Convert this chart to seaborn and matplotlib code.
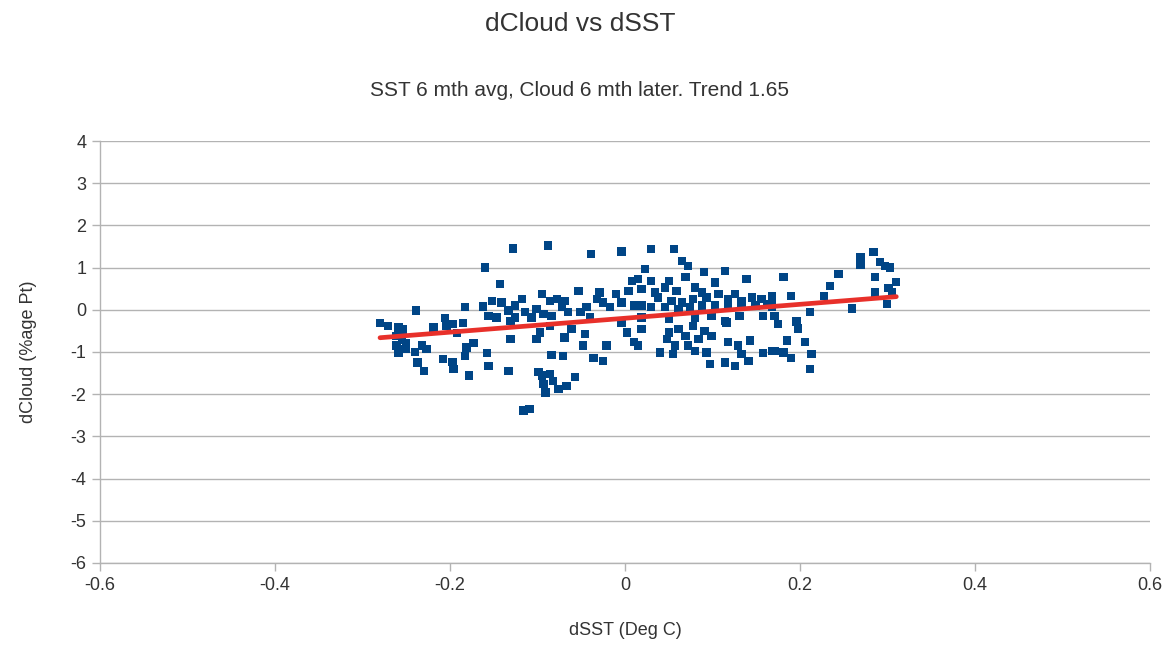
import numpy as np
import pandas as pd
import matplotlib
matplotlib.use("Agg")
import matplotlib.pyplot as plt
import seaborn as sns

# ---- data ----
dsst = [
    -0.280, -0.271, -0.259, -0.254, -0.262, -0.255, -0.250, -0.261, -0.259, -0.251,
    -0.239, -0.240, -0.232, -0.227, -0.237, -0.230, -0.219, -0.206, -0.204, -0.197,
    -0.192, -0.185, -0.183, -0.181, -0.173, -0.208, -0.197, -0.196, -0.183, -0.178,
    -0.162, -0.158, -0.156, -0.160, -0.152, -0.147, -0.143, -0.141, -0.156,
    -0.128, -0.088, -0.039, -0.004, -0.133, -0.126, -0.118, -0.114, -0.131, -0.126,
    -0.107, -0.101, -0.095, -0.093, -0.086, -0.084, -0.078, -0.072, -0.069, -0.065,
    -0.053, -0.051, -0.044, -0.040, -0.032, -0.029, -0.025, -0.017, -0.010, -0.004,
    0.004, 0.008, 0.011, -0.004, 0.002, 0.010, -0.131, -0.101, -0.097, -0.086,
    -0.069, -0.061, -0.046, -0.048, -0.021, -0.084, -0.071, -0.036, -0.025, -0.133,
    -0.099, -0.095, -0.086, -0.082, -0.093, -0.091, -0.076, -0.067, -0.057, -0.116,
    -0.109,
    0.030, 0.056, 0.065, 0.072, 0.023, 0.015, 0.030, 0.050, 0.069, 0.090,
    0.114, 0.103, 0.139, 0.019, 0.034, 0.046, 0.059, 0.080, 0.088, 0.038,
    0.053, 0.065, 0.078, 0.093, 0.107, 0.118, 0.126, 0.133, 0.145, 0.156,
    0.168, 0.019, 0.030, 0.046, 0.061, 0.074, 0.088, 0.103, 0.118, 0.133,
    0.149, 0.162, 0.019, 0.050, 0.080, 0.099, 0.114, 0.131, 0.158, 0.019,
    0.050, 0.061, 0.078, 0.091, 0.116, 0.048, 0.069, 0.084, 0.099, 0.057,
    0.072, 0.080, 0.015, 0.040, 0.055, 0.093, 0.118, 0.129, 0.143, 0.133,
    0.158, 0.097, 0.114, 0.126, 0.141, 0.168,
    0.284, 0.269, 0.269, 0.291, 0.297, 0.303, 0.244, 0.286, 0.310, 0.234,
    0.301, 0.227, 0.286, 0.305, 0.181, 0.190, 0.168, 0.299, 0.259, 0.211,
    0.168, 0.171, 0.175, 0.196, 0.198, 0.185, 0.206, 0.171, 0.181, 0.190,
    0.213, 0.211,
]
dcloud = [
    -0.32, -0.38, -0.42, -0.47, -0.62, -0.70, -0.79, -0.85, -1.03, -0.93,
    -0.02, -1.00, -0.85, -0.93, -1.25, -1.45, -0.42, -0.20, -0.38, -0.34,
    -0.55, -0.32, 0.06, -0.89, -0.79, -1.17, -1.23, -1.41, -1.09, -1.56,
    0.08, -1.03, -1.33, 1.00, 0.21, -0.18, 0.61, 0.17, -0.14,
    1.45, 1.52, 1.32, 1.38, -0.02, 0.10, 0.25, -0.06, -0.26, -0.18,
    -0.18, 0.02, 0.37, -0.10, 0.21, -0.14, 0.25, 0.06, 0.21, -0.06,
    0.45, -0.06, 0.06, -0.18, 0.25, 0.41, 0.17, 0.06, 0.37, 0.17,
    0.45, 0.69, 0.10, -0.30, -0.54, -0.77, -0.69, -0.69, -0.54, -0.38,
    -0.66, -0.46, -0.58, -0.85, -0.85, -1.07, -1.10, -1.15, -1.21, -1.45,
    -1.48, -1.56, -1.52, -1.68, -1.76, -1.96, -1.88, -1.80, -1.60, -2.39,
    -2.35,
    1.44, 1.44, 1.16, 1.04, 0.96, 0.73, 0.69, 0.69, 0.77, 0.89,
    0.92, 0.65, 0.73, 0.49, 0.41, 0.53, 0.45, 0.53, 0.41, 0.29,
    0.21, 0.17, 0.25, 0.29, 0.37, 0.25, 0.37, 0.21, 0.29, 0.25,
    0.33, 0.10, 0.06, 0.06, 0.02, 0.06, 0.10, 0.10, 0.06, 0.10,
    0.10, 0.14, -0.18, -0.22, -0.18, -0.14, -0.26, -0.14, -0.14, -0.46,
    -0.54, -0.46, -0.38, -0.50, -0.30, -0.69, -0.62, -0.69, -0.62, -0.85,
    -0.85, -0.97, -0.85, -1.01, -1.05, -1.01, -0.77, -0.85, -0.73, -1.05,
    -1.03, -1.29, -1.25, -1.33, -1.21, -0.97,
    1.37, 1.24, 1.06, 1.14, 1.04, 1.00, 0.85, 0.77, 0.66, 0.57,
    0.51, 0.33, 0.41, 0.41, 0.77, 0.33, 0.25, 0.13, 0.03, -0.05,
    0.06, -0.14, -0.34, -0.28, -0.44, -0.73, -0.77, -0.97, -1.01, -1.15,
    -1.05, -1.41,
]
trend_slope = 1.65
trend_intercept = -0.20

x_ticks = [-0.6, -0.4, -0.2, 0, 0.2, 0.4, 0.6]
x_tick_labels = ["-0.6", "-0.4", "-0.2", "0", "0.2", "0.4", "0.6"]
y_ticks = [4, 3, 2, 1, 0, -1, -2, -3, -4, -5, -6]

title = "dCloud vs dSST"
subtitle = "SST 6 mth avg, Cloud 6 mth later. Trend 1.65"
x_label = "dSST (Deg C)"
y_label = "dCloud (%age Pt)"

# ---- drawing ----
sns.set_theme(style="white")
plt.rcParams["font.family"] = ["Liberation Sans", "DejaVu Sans"]
plt.rcParams["axes.unicode_minus"] = False

df = pd.DataFrame({"dSST": dsst, "dCloud": dcloud})

fig = plt.figure(figsize=(11.74, 6.48), dpi=100)
ax = fig.add_axes([0.0852, 0.1312, 0.8944, 0.6512])

grid_col = "#b3b3b3"
text_col = "#333333"

ax.set_xlim(-0.6, 0.6)
ax.set_ylim(-6, 4)
ax.set_yticks(y_ticks)
ax.set_xticks(x_ticks)
ax.set_xticklabels(x_tick_labels)
ax.yaxis.grid(True, color=grid_col, linewidth=1.0)
ax.xaxis.grid(False)
ax.set_axisbelow(True)

sns.scatterplot(data=df, x="dSST", y="dCloud", ax=ax, marker="s", s=36,
                color="#004586", edgecolor="none", linewidth=0, zorder=3)

xs = np.array([df["dSST"].min(), df["dSST"].max()])
tr = pd.DataFrame({"x": xs, "y": trend_slope * xs + trend_intercept})
sns.lineplot(data=tr, x="x", y="y", ax=ax, color="#e8302a", linewidth=3.4,
             zorder=4)

for side in ["top", "right"]:
    ax.spines[side].set_visible(False)
for side in ["left", "bottom"]:
    ax.spines[side].set_color(grid_col)
    ax.spines[side].set_linewidth(1.0)

ax.tick_params(axis="both", which="major", length=6, width=1.0, color=grid_col,
               direction="out", labelsize=13, labelcolor=text_col, pad=4,
               bottom=True, left=True)

ax.set_xlabel(x_label, fontsize=13, color=text_col, labelpad=20)
ax.set_ylabel(y_label, fontsize=13, color=text_col, labelpad=24)

fig.text(0.494, 0.963, title, ha="center", va="center", fontsize=19,
         color=text_col)
fig.text(0.494, 0.861, subtitle, ha="center", va="center", fontsize=15,
         color=text_col)

fig.savefig("out.png", dpi=100, facecolor="white")
